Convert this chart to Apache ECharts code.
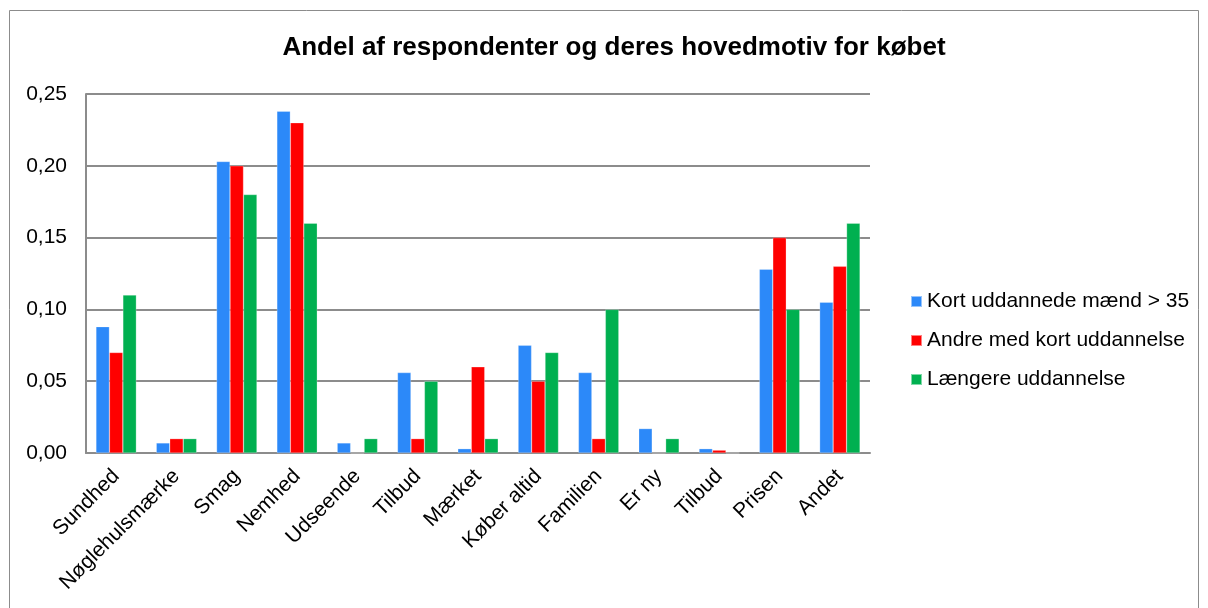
<!DOCTYPE html>
<html>
<head>
<meta charset="utf-8">
<script src="https://cdn.jsdelivr.net/npm/echarts@6/dist/echarts.min.js"></script>
<style>
  html, body { margin: 0; padding: 0; background: #fff; }
  #chart { width: 1208px; height: 608px; }
</style>
</head>
<body>
<div id="chart"></div>
<script>
// Motiver for købet
const categories = ['Sundhed', 'Nøglehulsmærke', 'Smag', 'Nemhed', 'Udseende', 'Tilbud', 'Mærket',
  'Køber altid', 'Familien', 'Er ny', 'Tilbud', 'Prisen', 'Andet'];

// Andel af respondenter pr. gruppe
const kortUddannedeMaend = [0.088, 0.007, 0.203, 0.238, 0.007, 0.056, 0.003, 0.075, 0.056, 0.017, 0.003, 0.128, 0.105];
const andreKortUddannelse = [0.07, 0.01, 0.20, 0.23, 0, 0.01, 0.06, 0.05, 0.01, 0, 0.002, 0.15, 0.13];
const laengereUddannelse = [0.11, 0.01, 0.18, 0.16, 0.01, 0.05, 0.01, 0.07, 0.10, 0.01, 0, 0.10, 0.16];

const seriesNames = ['Kort uddannede mænd > 35', 'Andre med kort uddannelse', 'Længere uddannelse'];
const seriesColors = ['#2C89F9', '#FF0000', '#00B050'];

const yTicks = { min: 0, max: 0.25, interval: 0.05 };

const font = 'Liberation Sans, Arial, sans-serif';
const chart = echarts.init(document.getElementById('chart'), null, { renderer: 'canvas' });

const seriesData = [kortUddannedeMaend, andreKortUddannelse, laengereUddannelse];

chart.setOption({
  backgroundColor: '#fff',
  animation: false,
  title: {
    text: 'Andel af respondenter og deres hovedmotiv for købet',
    left: 614,
    textAlign: 'center',
    top: 35,
    padding: 0,
    textStyle: { fontFamily: font, fontSize: 26, fontWeight: 'bold', color: '#000' }
  },
  graphic: [{
    type: 'rect',
    shape: { x: 9.5, y: 10.5, width: 1189, height: 640 },
    style: { fill: 'none', stroke: '#8c8c8c', lineWidth: 1 },
    silent: true
  }],
  legend: {
    orient: 'vertical',
    left: 910,
    top: 291,
    padding: 0,
    itemWidth: 11,
    itemHeight: 11,
    itemGap: 18,
    icon: 'rect',
    textStyle: { fontFamily: font, fontSize: 21, color: '#000' },
    data: seriesNames
  },
  grid: { left: 86, top: 94, right: 338, bottom: 155, containLabel: false },
  xAxis: {
    type: 'category',
    data: categories,
    axisLine: { lineStyle: { color: '#8c8c8c', width: 2 } },
    axisTick: { show: false },
    axisLabel: {
      rotate: 45,
      interval: 0,
      margin: 20,
      fontFamily: font,
      fontSize: 21,
      color: '#000'
    }
  },
  yAxis: {
    type: 'value',
    min: yTicks.min,
    max: yTicks.max,
    interval: yTicks.interval,
    axisLine: { show: true, lineStyle: { color: '#8c8c8c', width: 2 } },
    axisTick: { show: false },
    splitLine: { lineStyle: { color: '#8c8c8c', width: 2 } },
    axisLabel: {
      margin: 19,
      fontFamily: font,
      fontSize: 21,
      color: '#000',
      formatter: v => v.toFixed(2).replace('.', ',')
    }
  },
  series: seriesNames.map((name, i) => ({
    name,
    type: 'bar',
    data: seriesData[i],
    barGap: '0%',
    barCategoryGap: '33%',
    itemStyle: { color: seriesColors[i], borderColor: 'rgba(255,255,255,0.5)', borderWidth: 0.5 }
  }))
});
</script>
</body>
</html>
